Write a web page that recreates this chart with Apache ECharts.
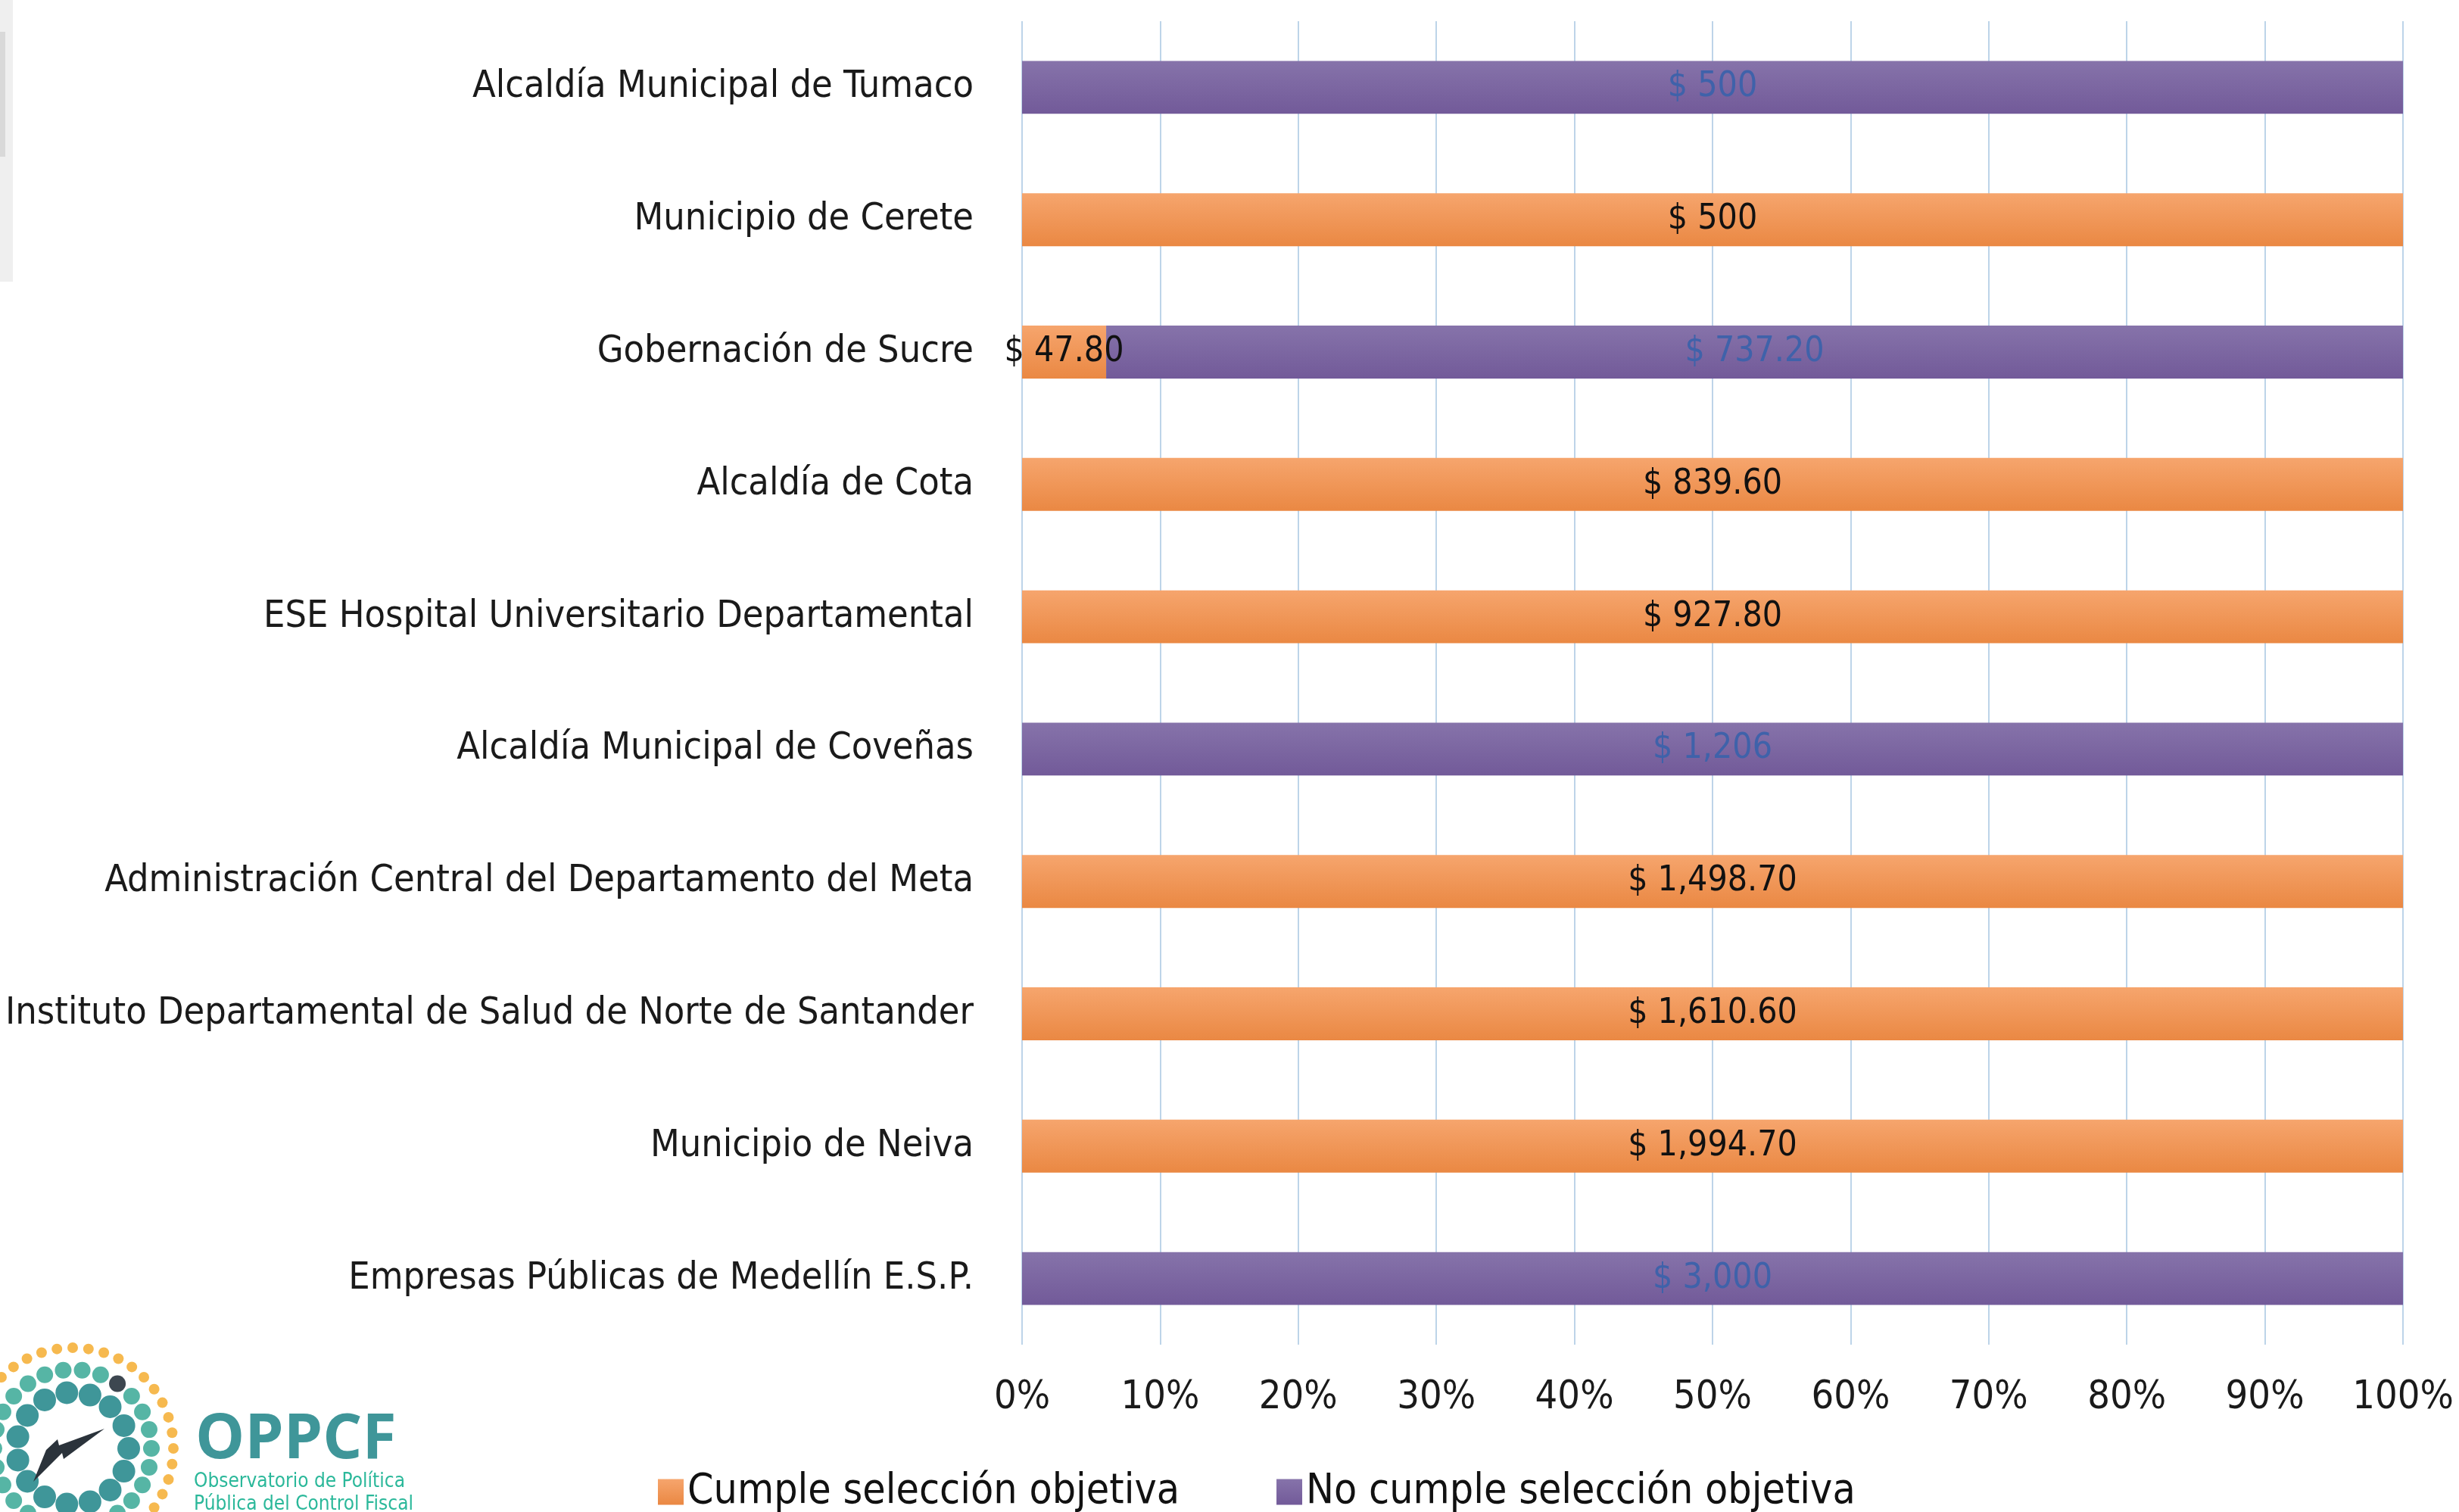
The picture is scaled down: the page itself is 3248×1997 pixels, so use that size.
<!doctype html>
<html>
<head>
    <meta charset="UTF-8">
    <title>Selección objetiva</title>
    <script src="https://cdn.jsdelivr.net/npm/echarts@6/dist/echarts.min.js"></script>
    <style>
        html, body { margin: 0; padding: 0; background: #fff; }
        #main { width: 3248px; height: 1997px; }
    </style>
</head>
<body>
<div id="main"></div>
<script>
    // entidades, de arriba hacia abajo
    var categories = [
        'Alcaldía Municipal de Tumaco',
        'Municipio de Cerete',
        'Gobernación de Sucre',
        'Alcaldía de Cota',
        'ESE Hospital Universitario Departamental',
        'Alcaldía Municipal de Coveñas',
        'Administración Central del Departamento del Meta',
        'Instituto Departamental de Salud de Norte de Santander',
        'Municipio de Neiva',
        'Empresas Públicas de Medellín E.S.P.'
    ];
    var cumple = [0, 500, 47.80, 839.60, 927.80, 0, 1498.70, 1610.60, 1994.70, 0];
    var noCumple = [500, 0, 737.20, 0, 0, 1206, 0, 0, 0, 3000];
    var seriesNames = ['Cumple selección objetiva', 'No cumple selección objetiva'];

    var font = "'DejaVu Sans Condensed', 'Open Sans', sans-serif";

    var money = function (v) {
        var isInt = Math.round(v) === v;
        return '$ ' + v.toLocaleString('en-US', {
            minimumFractionDigits: isInt ? 0 : 2,
            maximumFractionDigits: isInt ? 0 : 2
        });
    };

    // porcentaje de cada fila
    var pct = function (arr) {
        return arr.map(function (v, i) {
            var total = cumple[i] + noCumple[i];
            return v === 0 ? null : v / total * 100;
        });
    };

    var grad = function (top, bottom) {
        return new echarts.graphic.LinearGradient(0, 0, 0, 1, [
            {offset: 0, color: top},
            {offset: 1, color: bottom}
        ]);
    };

    var myChart = echarts.init(document.getElementById('main'));

    // logo OPPCF (decorativo)
    var logo = [];
    var cx = 96, cy = 1913;
    var rings = [
        {r: 133, n: 40, size: 7, color: '#f6b94f'},
        {r: 104, n: 26, size: 11, color: '#56b5a5'},
        {r: 74, n: 15, size: 15, color: '#3f9699'}
    ];
    rings.forEach(function (ring) {
        for (var k = 0; k < ring.n; k++) {
            var a = k / ring.n * Math.PI * 2;
            var color = ring.color;
            if (ring.r === 104 && k === ring.n - 4) color = '#3d4750';
            logo.push({
                type: 'circle',
                shape: {cx: cx + ring.r * Math.cos(a), cy: cy + ring.r * Math.sin(a), r: ring.size},
                style: {fill: color},
                silent: true
            });
        }
    });
    logo.push({
        type: 'polygon',
        shape: {points: [[138, 1887], [78, 1909], [76, 1901], [61, 1915], [44, 1957], [82, 1919], [84, 1927]]},
        style: {fill: '#2b333b'},
        silent: true
    });
    logo.push({
        type: 'text', left: 258, top: 1862,
        style: {text: 'OPPCF', font: 'bold 82px ' + "'Open Sans', sans-serif", fill: '#3f9699'}
    });
    logo.push({
        type: 'text', left: 256, top: 1942,
        style: {text: 'Observatorio de Política\nPública del Control Fiscal', font: '26px ' + font,
            fill: '#2bb89a', lineHeight: 30}
    });
    // franja gris del borde
    logo.push({type: 'rect', shape: {x: 0, y: 0, width: 17, height: 372}, style: {fill: '#efefef'}, silent: true});
    logo.push({type: 'rect', shape: {x: 0, y: 42, width: 7, height: 165}, style: {fill: '#d9d9d9'}, silent: true});

    var option = {
        animation: false,
        backgroundColor: '#fff',
        textStyle: {fontFamily: font},
        grid: {left: 1350, right: 74, top: 28, bottom: 221, containLabel: false, outerBoundsMode: 'none'},
        legend: {
            left: 864,
            top: 1938,
            itemWidth: 34,
            itemHeight: 34,
            itemGap: 128,
            icon: 'rect',
            textStyle: {fontSize: 55, color: '#111', fontFamily: font},
            data: seriesNames
        },
        xAxis: {
            type: 'value',
            min: 0,
            max: 100,
            interval: 10,
            axisLine: {show: false},
            axisTick: {show: false},
            axisLabel: {formatter: '{value}%', fontSize: 52, color: '#1a1a1a', margin: 44, fontFamily: font},
            splitLine: {lineStyle: {color: '#bdd4e9', width: 2}}
        },
        yAxis: {
            type: 'category',
            inverse: true,
            data: categories,
            axisLine: {show: false},
            axisTick: {show: false},
            axisLabel: {fontSize: 50, color: '#1a1a1a', margin: 64, fontFamily: font}
        },
        series: [
            {
                name: seriesNames[0],
                type: 'bar',
                stack: 'total',
                barWidth: '40%',
                data: pct(cumple),
                itemStyle: {color: grad('#f6a56d', '#ea8843')},
                label: {
                    show: true,
                    position: 'inside',
                    fontSize: 46,
                    color: '#111',
                    fontFamily: font,
                    formatter: function (p) {
                        return cumple[p.dataIndex] ? money(cumple[p.dataIndex]) : '';
                    }
                }
            },
            {
                name: seriesNames[1],
                type: 'bar',
                stack: 'total',
                barWidth: '40%',
                data: pct(noCumple),
                itemStyle: {color: grad('#8673aa', '#725a99')},
                label: {
                    show: true,
                    position: 'inside',
                    fontSize: 46,
                    color: '#3f62aa',
                    fontFamily: font,
                    formatter: function (p) {
                        return noCumple[p.dataIndex] ? money(noCumple[p.dataIndex]) : '';
                    }
                }
            }
        ],
        graphic: logo
    };

    myChart.setOption(option);
</script>
</body>
</html>
